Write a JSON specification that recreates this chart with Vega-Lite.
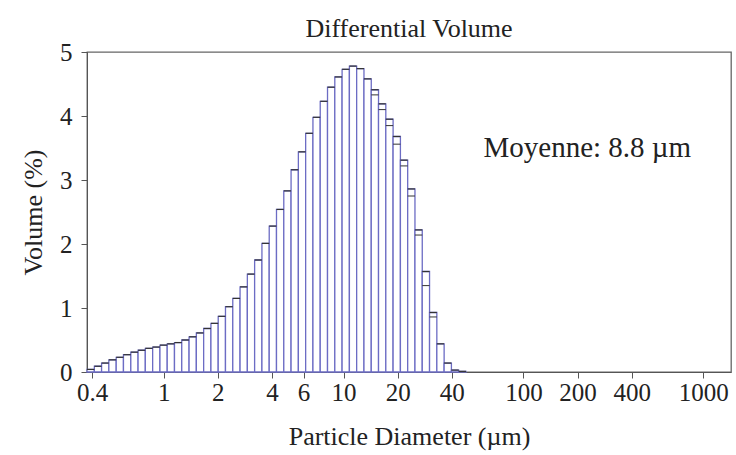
{
  "$schema": "https://vega.github.io/schema/vega-lite/v6.json",
  "width": 644,
  "height": 320,
  "autosize": "none",
  "padding": {"left": 87, "top": 52, "right": 5, "bottom": 83},
  "background": "white",
  "config": {
    "font": "Liberation Serif",
    "view": {"stroke": "#666", "strokeWidth": 1.3},
    "axis": {"grid": false, "domainColor": "#555", "tickColor": "#555", "labelColor": "#222", "titleColor": "#222", "labelFont": "Liberation Serif", "titleFont": "Liberation Serif", "labelFontSize": 25, "titleFontSize": 26, "titleFontWeight": "normal", "tickSize": 6}
  },
  "title": {"text": "Differential Volume", "fontSize": 26, "fontWeight": "normal", "font": "Liberation Serif", "color": "#222", "anchor": "middle", "offset": -2},
  "data": {"values": [
    {"lo": 0.375, "hi": 0.412, "v": 0.04},
    {"lo": 0.412, "hi": 0.452, "v": 0.09},
    {"lo": 0.452, "hi": 0.496, "v": 0.14},
    {"lo": 0.496, "hi": 0.545, "v": 0.19},
    {"lo": 0.545, "hi": 0.598, "v": 0.23},
    {"lo": 0.598, "hi": 0.657, "v": 0.27},
    {"lo": 0.657, "hi": 0.721, "v": 0.31},
    {"lo": 0.721, "hi": 0.791, "v": 0.34},
    {"lo": 0.791, "hi": 0.869, "v": 0.37},
    {"lo": 0.869, "hi": 0.954, "v": 0.39},
    {"lo": 0.954, "hi": 1.047, "v": 0.42},
    {"lo": 1.047, "hi": 1.149, "v": 0.44},
    {"lo": 1.149, "hi": 1.261, "v": 0.46},
    {"lo": 1.261, "hi": 1.385, "v": 0.50},
    {"lo": 1.385, "hi": 1.520, "v": 0.55},
    {"lo": 1.520, "hi": 1.669, "v": 0.61},
    {"lo": 1.669, "hi": 1.832, "v": 0.68},
    {"lo": 1.832, "hi": 2.011, "v": 0.76},
    {"lo": 2.011, "hi": 2.207, "v": 0.87},
    {"lo": 2.207, "hi": 2.423, "v": 1.02},
    {"lo": 2.423, "hi": 2.660, "v": 1.15},
    {"lo": 2.660, "hi": 2.920, "v": 1.33},
    {"lo": 2.920, "hi": 3.205, "v": 1.53},
    {"lo": 3.205, "hi": 3.519, "v": 1.75},
    {"lo": 3.519, "hi": 3.863, "v": 2.01},
    {"lo": 3.863, "hi": 4.240, "v": 2.28},
    {"lo": 4.240, "hi": 4.655, "v": 2.54},
    {"lo": 4.655, "hi": 5.110, "v": 2.83},
    {"lo": 5.110, "hi": 5.610, "v": 3.16},
    {"lo": 5.610, "hi": 6.158, "v": 3.44},
    {"lo": 6.158, "hi": 6.760, "v": 3.73},
    {"lo": 6.760, "hi": 7.421, "v": 3.98},
    {"lo": 7.421, "hi": 8.147, "v": 4.23},
    {"lo": 8.147, "hi": 8.943, "v": 4.45},
    {"lo": 8.943, "hi": 9.818, "v": 4.61},
    {"lo": 9.818, "hi": 10.78, "v": 4.73},
    {"lo": 10.78, "hi": 11.83, "v": 4.78},
    {"lo": 11.83, "hi": 12.99, "v": 4.74},
    {"lo": 12.99, "hi": 14.26, "v": 4.58},
    {"lo": 14.26, "hi": 15.65, "v": 4.41, "v2": 4.33},
    {"lo": 15.65, "hi": 17.18, "v": 4.19, "v2": 4.10},
    {"lo": 17.18, "hi": 18.86, "v": 3.95, "v2": 3.85},
    {"lo": 18.86, "hi": 20.71, "v": 3.68, "v2": 3.56},
    {"lo": 20.71, "hi": 22.73, "v": 3.31, "v2": 3.22},
    {"lo": 22.73, "hi": 24.95, "v": 2.86, "v2": 2.75},
    {"lo": 24.95, "hi": 27.39, "v": 2.22, "v2": 2.14},
    {"lo": 27.39, "hi": 30.07, "v": 1.57, "v2": 1.35},
    {"lo": 30.07, "hi": 33.01, "v": 0.93, "v2": 0.86},
    {"lo": 33.01, "hi": 36.24, "v": 0.44},
    {"lo": 36.24, "hi": 39.78, "v": 0.14},
    {"lo": 39.78, "hi": 43.67, "v": 0.03},
    {"lo": 43.67, "hi": 47.94, "v": 0.01}
  ]},
  "layer": [
    {
      "mark": {"type": "bar", "fill": "white", "stroke": "#6c6cc4", "strokeWidth": 1.3},
      "encoding": {
        "x": {"field": "lo", "type": "quantitative", "scale": {"type": "log", "domain": [0.375, 1425], "nice": false},
          "axis": {"title": "Particle Diameter (µm)", "values": [0.4, 1, 2, 4, 6, 10, 20, 40, 100, 200, 400, 1000], "format": "~g", "labelPadding": 2, "titlePadding": 18, "labelFlush": false, "labelOverlap": false}},
        "x2": {"field": "hi"},
        "y": {"field": "v", "type": "quantitative", "scale": {"domain": [0, 5], "nice": false},
          "axis": {"title": "Volume (%)", "values": [0, 1, 2, 3, 4, 5], "format": "d", "labelPadding": 9, "titlePadding": 13}},
        "y2": {"datum": 0}
      }
    },
    {
      "mark": {"type": "rule", "stroke": "#333", "strokeWidth": 1.2},
      "encoding": {
        "x": {"field": "lo", "type": "quantitative"},
        "x2": {"field": "hi"},
        "y": {"field": "v", "type": "quantitative"}
      }
    },
    {
      "transform": [{"filter": "isValid(datum.v2)"}],
      "mark": {"type": "rule", "stroke": "#333", "strokeWidth": 1},
      "encoding": {
        "x": {"field": "lo", "type": "quantitative"},
        "x2": {"field": "hi"},
        "y": {"field": "v2", "type": "quantitative"}
      }
    },
    {
      "data": {"values": [{"label": "Moyenne: 8.8 µm"}]},
      "mark": {"type": "text", "align": "left", "baseline": "middle", "fontSize": 29, "font": "Liberation Serif", "color": "#222"},
      "encoding": {
        "x": {"datum": 60, "type": "quantitative"},
        "y": {"datum": 3.5, "type": "quantitative"},
        "text": {"field": "label"}
      }
    }
  ]
}
